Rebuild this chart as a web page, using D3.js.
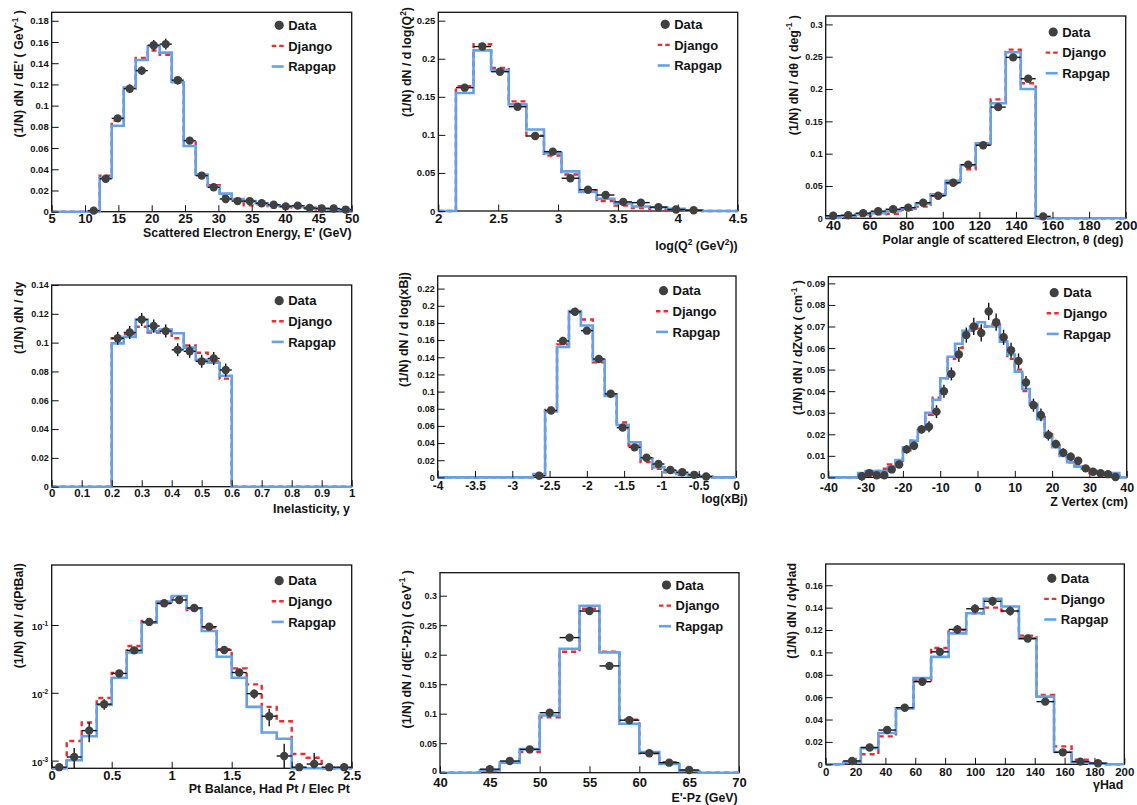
<!DOCTYPE html>
<html>
<head>
<meta charset="utf-8">
<script src="https://cdn.jsdelivr.net/npm/d3@7"></script>
<style>
  body { margin: 0; background: #fff; }
  svg text { font-family: "Liberation Sans", Arial, Helvetica, sans-serif; font-weight: bold; fill: #141414; }
</style>
</head>
<body>
<svg id="chart" width="1137" height="805"></svg>
<script>
// ---------- histogram contents (one entry per bin) ----------

// Scattered electron energy E' : 25 bins, 5..50 GeV
const eData    = [null,null,null,0.001,0.031,0.088,0.116,0.133,0.157,0.158,0.124,0.067,0.034,0.023,0.012,0.010,0.010,0.008,0.0066,0.005,0.0057,0.0035,0.003,0.003,0.002];
const eErr     = [0,0,0,0.001,0.002,0.003,0.004,0.004,0.005,0.005,0.004,0.003,0.002,0.002,0.0015,0.0015,0.0015,0.0012,0.001,0.001,0.001,0.001,0.001,0.001,0.001];
const eDjango  = [0,0,0,0,0.034,0.086,0.116,0.145,0.152,0.148,0.125,0.067,0.036,0.025,0.015,0.010,0.006,0.007,0.004,0.005,0.004,0.003,0.002,0.002,0.001];
const eRapgap  = [0,0,0,0,0.032,0.081,0.117,0.143,0.156,0.150,0.122,0.062,0.035,0.024,0.017,0.012,0.010,0.008,0.006,0.005,0.005,0.004,0.003,0.002,0.002];

// log(Q^2) : 17 bins, 2..4.5
const q2Data   = [null,0.162,0.216,0.183,0.137,0.0985,0.078,0.043,0.028,0.021,0.012,0.011,0.005,0.002,0.001,null,null];
const q2Err    = [0,0.003,0.004,0.003,0.003,0.003,0.002,0.002,0.002,0.001,0.001,0.001,0.001,0.001,0.001,0,0];
const q2Django = [0,0.164,0.219,0.188,0.144,0.099,0.073,0.048,0.027,0.013,0.007,0.004,0.002,0.001,0.001,0,0];
const q2Rapgap = [0,0.155,0.211,0.185,0.140,0.107,0.076,0.052,0.025,0.016,0.010,0.006,0.005,0.003,0.001,0,0];

// Polar angle theta : 20 bins, 36..200 deg
const thData   = [0.004,0.0047,0.008,0.011,0.014,0.0165,0.024,0.035,0.055,0.083,0.113,0.172,0.249,0.216,0.003,null,null,null,null,null];
const thErr    = [0.001,0.001,0.001,0.001,0.001,0.002,0.002,0.002,0.003,0.003,0.003,0.004,0.004,0.004,0.001,0,0,0,0,0];
const thDjango = [0.001,0.002,0.004,0.006,0.007,0.013,0.018,0.035,0.054,0.076,0.115,0.184,0.261,0.209,0,0,0,0,0,0];
const thRapgap = [0.001,0.0036,0.006,0.008,0.0113,0.015,0.0228,0.037,0.058,0.082,0.116,0.178,0.257,0.200,0,0,0,0,0,0];

// Inelasticity y : 25 bins, 0..1
const yData    = [null,null,null,null,null,0.103,0.107,0.116,0.1115,0.108,0.095,0.094,0.087,0.089,0.081,null,null,null,null,null,null,null,null,null,null];
const yErr     = [0,0,0,0,0,0.0045,0.0045,0.0045,0.0045,0.0045,0.0045,0.0045,0.0045,0.0045,0.0045,0,0,0,0,0,0,0,0,0,0];
const yDjango  = [0,0,0,0,0,0.103,0.106,0.111,0.107,0.108,0.103,0.098,0.093,0.087,0.075,0,0,0,0,0,0,0,0,0,0];
const yRapgap  = [0,0,0,0,0,0.0995,0.104,0.116,0.108,0.109,0.1065,0.0965,0.088,0.086,0.077,0,0,0,0,0,0,0,0,0,0];

// log(xBj) : 25 bins, -4..0
const xbData   = [null,null,null,null,null,null,null,null,0.002,0.078,0.159,0.193,0.171,0.138,0.0975,0.058,0.035,0.023,0.0156,0.0086,0.006,0.003,0.001,null,null];
const xbErr    = [0,0,0,0,0,0,0,0,0.001,0.003,0.004,0.004,0.004,0.003,0.003,0.002,0.002,0.002,0.001,0.001,0.001,0.001,0.001,0,0];
const xbDjango = [0,0,0,0,0,0,0,0,0.003,0.081,0.155,0.192,0.184,0.134,0.097,0.064,0.037,0.018,0.010,0.006,0.003,0.002,0.001,0,0];
const xbRapgap = [0,0,0,0,0,0,0,0,0.004,0.077,0.152,0.194,0.177,0.137,0.095,0.061,0.041,0.022,0.012,0.007,0.004,0.002,0.001,0,0];

// Z vertex : 40 bins, -40..40 cm
const zData    = [null,null,null,null,0.0005,0.002,0.001,0.001,0.0037,0.006,0.013,0.0147,0.0223,0.0235,0.0305,0.040,0.048,0.057,0.066,0.070,0.067,0.077,0.072,0.065,0.059,0.054,0.044,0.0335,0.029,0.0196,0.0155,0.0115,0.0096,0.0077,0.0042,0.0026,0.0019,0.0015,0.0002,null];
const zErr     = [0,0,0,0,0.002,0.001,0.001,0.001,0.0015,0.0015,0.002,0.002,0.002,0.0025,0.003,0.003,0.003,0.0035,0.0035,0.004,0.004,0.004,0.004,0.0035,0.0035,0.0035,0.003,0.003,0.003,0.0025,0.002,0.002,0.002,0.0015,0.0015,0.001,0.001,0.001,0.001,0];
const zDjango  = [0,0,0,0,0.002,0.002,0.003,0.004,0.006,0.007,0.012,0.017,0.021,0.029,0.037,0.046,0.055,0.060,0.066,0.068,0.069,0.070,0.071,0.064,0.055,0.050,0.040,0.035,0.028,0.020,0.015,0.011,0.007,0.006,0.004,0.002,0.002,0.001,0.001,0];
const zRapgap  = [0,0,0,0,0.002,0.003,0.003,0.003,0.005,0.008,0.014,0.017,0.022,0.030,0.036,0.046,0.056,0.062,0.068,0.070,0.072,0.070,0.070,0.063,0.057,0.049,0.041,0.034,0.027,0.019,0.014,0.010,0.007,0.005,0.004,0.003,0.002,0.002,0.002,0];

// Pt balance : 20 bins, 0..2.5 (log scale)
const ptData   = [0.0008,0.00113,0.00277,0.0068,0.0193,0.0423,0.111,0.209,0.234,0.178,0.0945,0.0427,0.0199,0.0097,0.00452,0.00117,0.0008,0.00089,0.0008,0.0008];
const ptErr    = [0,0.0004,0.0009,0.0012,0.002,0.003,0.005,0.008,0.009,0.007,0.005,0.003,0.0018,0.0015,0.0013,0.0006,0,0.0004,0,0];
const ptDjango = [0,0.00195,0.00365,0.0084,0.0197,0.049,0.115,0.209,0.254,0.166,0.0913,0.0441,0.0229,0.0133,0.0062,0.0038,0.00125,0.0011,0,0];
const ptRapgap = [0,0.00101,0.00229,0.0066,0.0167,0.0395,0.108,0.221,0.268,0.176,0.0815,0.034,0.0167,0.0062,0.0026,0.0021,0,0,0,0];

// E'-Pz : 15 bins, 40..70 GeV
const epzData   = [null,null,0.006,0.0198,0.0395,0.1017,0.229,0.274,0.181,0.089,0.033,0.017,0.0045,null,null];
const epzErr    = [0,0,0.001,0.002,0.002,0.003,0.003,0.003,0.003,0.002,0.002,0.001,0.001,0,0];
const epzDjango = [0,0,0.003,0.018,0.035,0.094,0.205,0.278,0.205,0.090,0.033,0.018,0.004,0,0];
const epzRapgap = [0,0,0.004,0.017,0.040,0.097,0.210,0.283,0.204,0.083,0.035,0.015,0.003,0,0];

// gamma_Had : 17 bins, 0..200
const ghData   = [null,0.003,0.015,0.0306,0.0506,0.0738,0.1005,0.1205,0.139,0.1457,0.137,0.1124,0.056,0.0107,0.0024,0.001,null];
const ghErr    = [0,0.001,0.002,0.002,0.002,0.003,0.003,0.004,0.004,0.004,0.004,0.003,0.003,0.002,0.001,0.001,0];
const ghDjango = [0,0.001,0.009,0.025,0.050,0.075,0.104,0.120,0.135,0.140,0.137,0.115,0.062,0.016,0.004,0.001,0];
const ghRapgap = [0,0.002,0.0145,0.028,0.050,0.077,0.096,0.117,0.135,0.148,0.141,0.1125,0.0605,0.011,0.002,0.0005,0];

const legendLabels = ["Data", "Django", "Rapgap"];

// ---------- panel layout ----------
const panels = [
  { frame:[51.7,12.3,351.7,211.7], xDom:[5,50], yDom:[0,0.188],
    data:eData, err:eErr, django:eDjango, rapgap:eRapgap,
    xMajor:5, xMinor:1, yMajor:0.02, yMinor:0.004, xFs:13, yFs:9.5, xPad:2.5,
    xTitle:"Scattered Electron Energy, E' (GeV)", xTitleR:351.7, xTitleB:236.7,
    yTitle:"(1/N) dN / dE' ( GeV^{-1} )", yTitleX:23, yTitleT:10, legTop:13 },
  { frame:[438.3,12.3,737.7,211], xDom:[2,4.5], yDom:[0,0.261],
    data:q2Data, err:q2Err, django:q2Django, rapgap:q2Rapgap,
    xMajor:0.5, xMinor:0.1, yMajor:0.05, yMinor:0.01, xFs:13.5, yFs:9.5, xPad:2.5,
    xTitle:"log(Q^{2} (GeV^{2}))", xTitleR:737.7, xTitleB:250,
    yTitle:"(1/N) dN / d log(Q^{2})", yTitleX:411, yTitleT:7, legTop:12 },
  { frame:[825.7,16,1125.7,218.3], xDom:[36,200], yDom:[0,0.313],
    data:thData, err:thErr, django:thDjango, rapgap:thRapgap,
    xMajor:20, xMinor:5, yMajor:0.05, yMinor:0.01, xFs:13.5, yFs:9, xPad:2.5,
    xTitle:"Polar angle of scattered Electron, θ (deg)", xTitleR:1123.3, xTitleB:244,
    yTitle:"(1/N) dN / dθ ( deg^{-1} )", yTitleX:797.5, yTitleT:15, legTop:16 },
  { frame:[51.7,285,351.7,486.7], xDom:[0,1], yDom:[0,0.14],
    data:yData, err:yErr, django:yDjango, rapgap:yRapgap,
    xMajor:0.1, xMinor:0.02, yMajor:0.02, yMinor:0.004, xFs:11.5, yFs:9, xPad:2.5,
    xTitle:"Inelasticity, y", xTitleR:350, xTitleB:512.7,
    yTitle:"(1/N) dN / dy", yTitleX:22.5, yTitleT:281.7, legTop:15.7 },
  { frame:[437.7,276,736,477.4], xDom:[-4,0], yDom:[0,0.2347],
    data:xbData, err:xbErr, django:xbDjango, rapgap:xbRapgap,
    xMajor:0.5, xMinor:0.1, yMajor:0.02, yMinor:0.004, xFs:12, yFs:9, xPad:4,
    xTitle:"log(xBj)", xTitleR:747.7, xTitleB:502.7,
    yTitle:"(1/N) dN / d log(xBj)", yTitleX:407.5, yTitleT:272, legTop:14.7 },
  { frame:[828.3,276.7,1126.7,477.4], xDom:[-40,40], yDom:[0,0.0931],
    data:zData, err:zErr, django:zDjango, rapgap:zRapgap,
    xMajor:10, xMinor:2, yMajor:0.01, yMinor:0.002, xFs:12.5, yFs:9.5, xPad:5.5, zeroLift:2.3,
    xTitle:"Z Vertex (cm)", xTitleR:1128, xTitleB:506,
    yTitle:"(1/N) dN / dZvtx ( cm^{-1} )", yTitleX:802, yTitleT:280, legTop:16 },
  { frame:[51.7,565,351.7,768.3], xDom:[0,2.5], yDom:[0.00077,0.767], log:true,
    data:ptData, err:ptErr, django:ptDjango, rapgap:ptRapgap,
    xMajor:0.5, xMinor:0.1, xFs:13, yFs:9.5, xPad:2.5,
    xTitle:"Pt Balance, Had Pt / Elec Pt", xTitleR:350, xTitleB:792.7,
    yTitle:"(1/N) dN / d(PtBal)", yTitleX:23, yTitleT:563, legTop:15.7 },
  { frame:[440,572.7,739,772.7], xDom:[40,70], yDom:[0,0.339],
    data:epzData, err:epzErr, django:epzDjango, rapgap:epzRapgap,
    xMajor:5, xMinor:1, yMajor:0.05, yMinor:0.01, xFs:13, yFs:9, xPad:5.5, zeroLift:2.2,
    xTitle:"E'-Pz (GeV)", xTitleR:737.7, xTitleB:801.8,
    yTitle:"(1/N) dN / d(E'-Pz)) ( GeV^{-1} )", yTitleX:410.5, yTitleT:570, legTop:12.3 },
  { frame:[825.7,564,1124.3,764.3], xDom:[0,200], yDom:[0,0.179],
    data:ghData, err:ghErr, django:ghDjango, rapgap:ghRapgap,
    xMajor:20, xMinor:4, yMajor:0.02, yMinor:0.004, xFs:11.5, yFs:9, xPad:3.5,
    xTitle:"γHad", xTitleR:1123.3, xTitleB:789.3,
    yTitle:"(1/N) dN / dγHad", yTitleX:796, yTitleT:563, legTop:14.3 }
];

const BLUE = "#63a1ea", RED = "#f02a2e", MARK = "#404040";
const svg = d3.select("#chart");
const fmt = v => String(+v.toFixed(6));

function stepValues(lo, hi, step) {
  const a = Math.ceil(lo / step - 1e-6), b = Math.floor(hi / step + 1e-6);
  return d3.range(a, b + 1).map(k => +(k * step).toFixed(8));
}

// text with ^{...} superscripts
function richText(sel, str, fs) {
  const parts = str.split(/\^\{([^}]*)\}/);
  let raised = false;
  parts.forEach((p, i) => {
    if (p === "") { return; }
    const isSup = i % 2 === 1;
    const t = sel.append("tspan").text(p);
    if (isSup) {
      t.attr("font-size", fs * 0.68).attr("dy", -fs * 0.42);
      raised = true;
    } else if (raised) {
      t.attr("dy", fs * 0.42);
      raised = false;
    }
  });
}

panels.forEach(p => {
  const [L, T, R, B] = p.frame;
  const g = svg.append("g");
  const x = d3.scaleLinear().domain(p.xDom).range([L, R]);
  const y = (p.log ? d3.scaleLog() : d3.scaleLinear()).domain(p.yDom).range([B, T]);
  const yMin = p.yDom[0];
  const yv = v => p.log ? Math.max(v, yMin) : v;
  const nb = p.rapgap.length;
  const w = (p.xDom[1] - p.xDom[0]) / nb;
  const edge = i => p.xDom[0] + i * w;

  // frame
  g.append("rect").attr("x", L).attr("y", T).attr("width", R - L).attr("height", B - T)
    .attr("fill", "none").attr("stroke", "#111").attr("stroke-width", 1.3);

  // step histograms
  const histLine = d3.line().x(d => x(d[0])).y(d => y(yv(d[1]))).curve(d3.curveStepAfter);
  const pts = vals => vals.map((v, i) => [edge(i), v]).concat([[edge(vals.length), vals[vals.length - 1]]]);
  g.append("path").attr("d", histLine(pts(p.django))).attr("fill", "none")
    .attr("stroke", RED).attr("stroke-width", 2.4).attr("stroke-dasharray", "5,4");
  g.append("path").attr("d", histLine(pts(p.rapgap))).attr("fill", "none")
    .attr("stroke", BLUE).attr("stroke-width", 2.6);

  // axes (ticks point into the frame)
  const xAx = g.append("g").attr("transform", `translate(0,${B})`);
  xAx.call(d3.axisBottom(x).tickValues(stepValues(p.xDom[0], p.xDom[1], p.xMinor)).tickSize(-3.2).tickFormat(""));
  xAx.call(d3.axisBottom(x).tickValues(stepValues(p.xDom[0], p.xDom[1], p.xMajor)).tickSize(-6.5).tickPadding(p.xPad).tickFormat(fmt));
  const yAx = g.append("g").attr("transform", `translate(${L},0)`);
  if (p.log) {
    const minors = [];
    [-4, -3, -2, -1].forEach(d => d3.range(1, 10).forEach(k => {
      const v = k * Math.pow(10, d);
      if (v >= p.yDom[0] && v <= p.yDom[1]) minors.push(v);
    }));
    yAx.call(d3.axisLeft(y).tickValues(minors).tickSize(-3.5).tickFormat(""));
    yAx.call(d3.axisLeft(y).tickValues([1e-3, 1e-2, 1e-1]).tickSize(-7).tickPadding(3.5).tickFormat(""));
    yAx.selectAll(".tick").filter(d => [1e-3, 1e-2, 1e-1].includes(d)).each(function(d) {
      const t = d3.select(this).select("text").text(null);
      const e = Math.round(Math.log10(d));
      t.attr("font-size", p.yFs).attr("dy", "0.5em");
      richText(t, `10^{${e}}`, p.yFs);
    });
  } else {
    yAx.call(d3.axisLeft(y).tickValues(stepValues(p.yDom[0], p.yDom[1], p.yMinor)).tickSize(-3.5).tickFormat(""));
    yAx.call(d3.axisLeft(y).tickValues(stepValues(p.yDom[0], p.yDom[1], p.yMajor)).tickSize(-7).tickPadding(3).tickFormat(fmt));
  }
  [xAx, yAx].forEach(a => {
    a.selectAll(".domain").remove();
    a.attr("font-family", null).attr("font-size", null);
    a.selectAll(".tick line").attr("stroke", "#111").attr("stroke-width", 1);
  });
  xAx.selectAll(".tick text").attr("font-size", p.xFs).attr("fill", "#141414");
  yAx.selectAll(".tick text").filter(function() { return !this.getAttribute("font-size"); })
    .attr("font-size", p.yFs).attr("fill", "#141414");
  if (p.zeroLift) {
    // keep the "0" label clear of the first x label in the corner
    yAx.selectAll(".tick").filter(d => d === 0).select("text")
      .attr("dy", (0.32 * p.yFs - p.zeroLift).toFixed(2));
  }

  // data points with errors
  const pts2 = p.data.map((v, i) => ({ v, e: p.err[i], lo: edge(i), hi: edge(i + 1), c: edge(i) + w / 2 }))
    .filter(d => d.v !== null);
  const dg = g.append("g");
  dg.selectAll("line.h").data(pts2).join("line")
    .attr("x1", d => x(d.lo)).attr("x2", d => x(d.hi))
    .attr("y1", d => y(yv(d.v))).attr("y2", d => y(yv(d.v)))
    .attr("stroke", "#111").attr("stroke-width", 1.4);
  dg.selectAll("line.v").data(pts2).join("line")
    .attr("x1", d => x(d.c)).attr("x2", d => x(d.c))
    .attr("y1", d => y(yv(d.v - d.e))).attr("y2", d => y(yv(d.v + d.e)))
    .attr("stroke", "#111").attr("stroke-width", 1.4);
  dg.selectAll("circle").data(pts2).join("circle")
    .attr("cx", d => x(d.c)).attr("cy", d => y(yv(d.v))).attr("r", 4.2)
    .attr("fill", MARK);

  // legend
  const lg = g.append("g");
  const row = k => T + p.legTop + k * 20.6;
  lg.append("circle").attr("cx", R - 72.5).attr("cy", row(0)).attr("r", 4.6).attr("fill", MARK);
  lg.append("line").attr("x1", R - 80).attr("x2", R - 68).attr("y1", row(1)).attr("y2", row(1))
    .attr("stroke", RED).attr("stroke-width", 2.4).attr("stroke-dasharray", "4.5,3");
  lg.append("line").attr("x1", R - 80).attr("x2", R - 68).attr("y1", row(2)).attr("y2", row(2))
    .attr("stroke", BLUE).attr("stroke-width", 2.6);
  legendLabels.forEach((s, k) => {
    lg.append("text").attr("x", R - 63.5).attr("y", row(k) + 4.7).attr("font-size", 13).text(s);
  });

  // axis titles
  const xt = g.append("text").attr("x", p.xTitleR).attr("y", p.xTitleB)
    .attr("text-anchor", "end").attr("font-size", 12.4);
  richText(xt, p.xTitle, 12.4);
  const yt = g.append("text").attr("text-anchor", "end").attr("font-size", 12.4)
    .attr("transform", `translate(${p.yTitleX},${p.yTitleT}) rotate(-90)`);
  richText(yt, p.yTitle, 12.4);
});
</script>
</body>
</html>
